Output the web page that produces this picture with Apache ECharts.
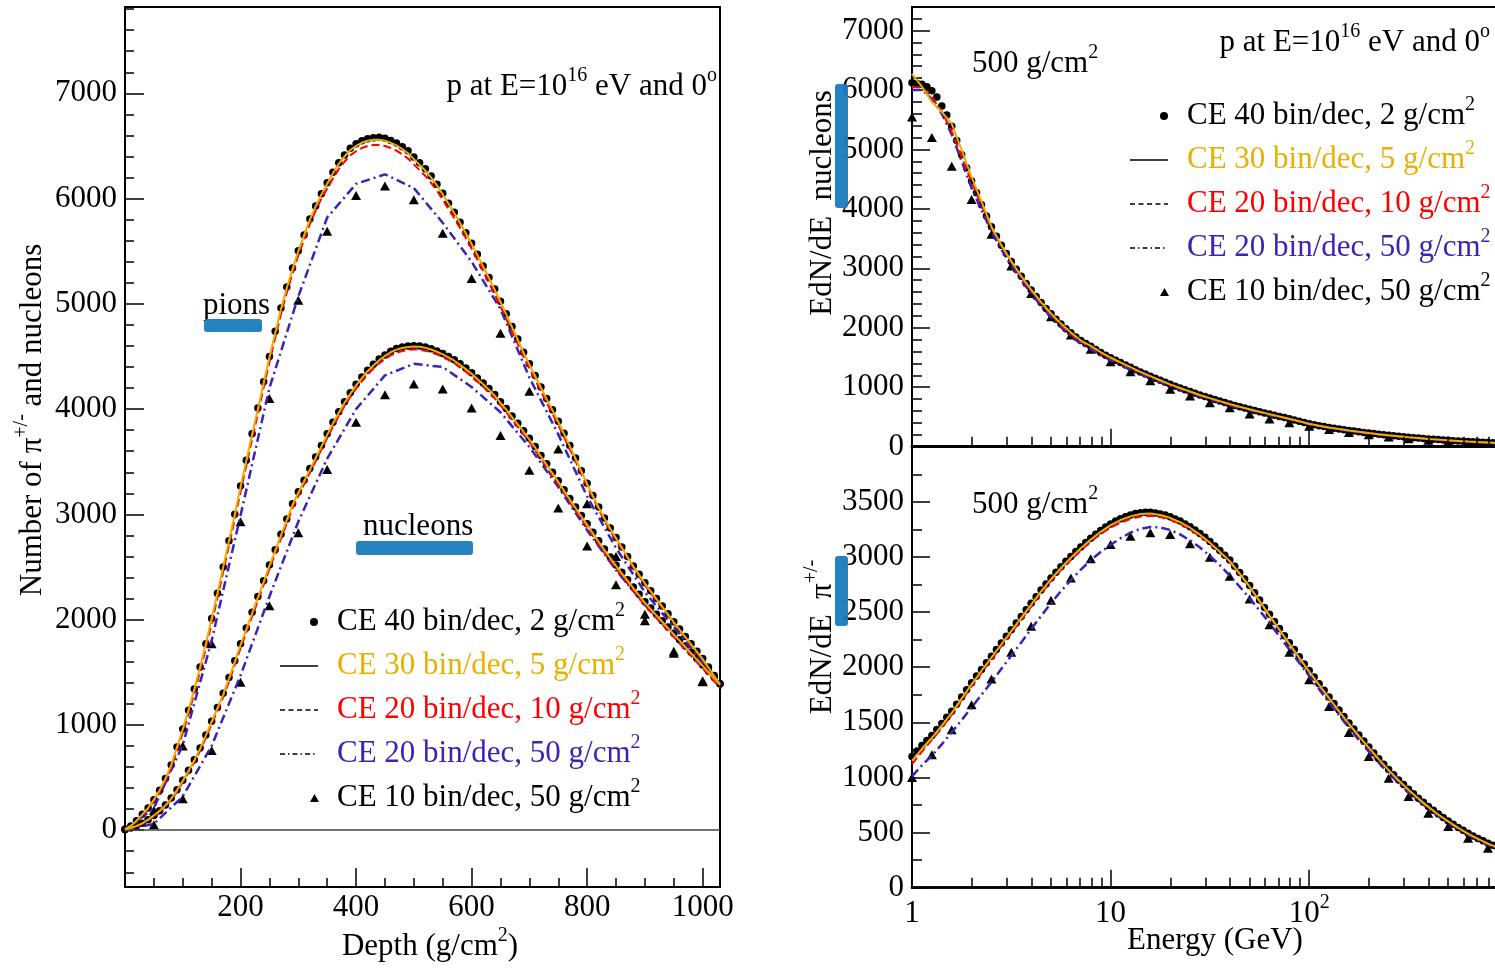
<!DOCTYPE html>
<html><head><meta charset="utf-8">
<script src="https://cdn.jsdelivr.net/npm/echarts@6/dist/echarts.min.js"></script>
<style>html,body{margin:0;padding:0;background:#fff}#c{width:1495px;height:969px}</style>
</head><body><div id="c"></div>
<script>
// ---------------- DATA ----------------
const SERIES_NAMES = ['CE 40 bin/dec, 2 g/cm²', 'CE 30 bin/dec, 5 g/cm²', 'CE 20 bin/dec, 10 g/cm²', 'CE 20 bin/dec, 50 g/cm²', 'CE 10 bin/dec, 50 g/cm²'];

// depth grids (g/cm2)
const depth10 = Array.from({length: 104}, (_, i) => i * 10);           // 0..1030 step 10
const depth50 = [0,50,100,150,200,250,300,350,400,450,500,550,600,650,700,750,800,850,900,950,1000,1050];
const depth50tri = [50,100,150,200,250,300,350,400,450,500,550,600,650,700,750,800,850,900,950,1000];

// pions vs depth
const pionDots = [10,40,90,150,210,290,380,490,620,790, 960,1140,1340,1550,1770,2010,2250,2500,2750,3000,
  3270,3515,3765,4010,4260,4500,4740,4960,5160,5340, 5505,5655,5805,5930,6045,6150,6250,6340,6415,6478,
  6520,6550,6568,6578,6582,6572,6552,6527,6493,6455, 6395,6340,6283,6215,6135,6050,5955,5870,5775,5675,
  5575,5470,5360,5250,5140,5025,4905,4785,4665,4540, 4430,4320,4210,4100,3995,3885,3770,3655,3535,3415,
  3295,3180,3070,2965,2870,2780,2690,2600,2510,2430, 2350,2275,2200,2130,2055,1980,1910,1840,1770,1700,
  1630,1550,1470,1390];
const pionCE30 = [10,40,90,150,210,290,380,490,620,790, 960,1140,1340,1550,1770,2010,2250,2500,2750,3000,
  3260,3510,3760,4000,4250,4490,4720,4950,5150,5330, 5500,5650,5800,5925,6040,6140,6240,6330,6400,6460,
  6500,6530,6550,6558,6560,6550,6530,6505,6470,6430, 6375,6320,6265,6200,6125,6040,5950,5862,5768,5670,
  5570,5465,5355,5245,5135,5020,4900,4780,4660,4535, 4425,4315,4205,4095,3990,3880,3765,3650,3530,3410,
  3290,3175,3065,2960,2865,2775,2685,2595,2505,2425, 2345,2270,2195,2125,2050,1975,1905,1835,1765,1695,
  1625,1545,1465,1385];
const pionCE20fine = [10,35,80,140,200,275,360,465,590,755, 925,1105,1300,1510,1730,1965,2205,2455,2705,2955,
  3215,3465,3715,3955,4205,4445,4675,4905,5105,5290, 5460,5610,5760,5885,6000,6095,6190,6280,6350,6410,
  6450,6480,6500,6510,6510,6500,6480,6455,6420,6380, 6325,6270,6215,6150,6075,5990,5900,5815,5720,5625,
  5525,5420,5310,5200,5090,4975,4855,4740,4620,4500, 4390,4280,4170,4060,3955,3850,3735,3620,3505,3385,
  3265,3155,3045,2940,2845,2755,2665,2580,2490,2410, 2330,2255,2180,2110,2040,1965,1895,1825,1755,1685,
  1615,1535,1455,1375];
const pionCE20coarse = [0,210,810,1800,2990,4200,5070,5820,6140,6230,6100,5770,5400,4950,4300,3760,3170,2680,2260,1930,1590,1260];
const pionCE10 = [190,800,1770,2930,4100,5035,5690,6030,6120,5990,5670,5240,4720,4170,3620,3100,2600,2050,1700,1420];

// nucleons vs depth
const nucDots = [5,20,40,65,100,140,185,240,305,385, 475,570,670,780,905,1035,1165,1300,1450,1610,
  1770,1920,2070,2220,2370,2520,2665,2810,2955,3100, 3215,3325,3435,3545,3655,3765,3875,3975,4070,4155,
  4235,4305,4370,4425,4475,4515,4550,4575,4590,4600, 4603,4600,4590,4574,4553,4528,4500,4468,4430,4390,
  4345,4295,4247,4195,4138,4070,4005,3935,3865,3795, 3722,3645,3560,3480,3400,3320,3235,3150,3070,2990,
  2910,2830,2750,2670,2595,2520,2450,2380,2310,2240, 2170,2110,2050,1990,1930,1870,1810,1750,1690,1630,
  1570,1510,1450,1390];
const nucCE30 = [5,20,40,65,100,140,185,235,300,380, 470,565,665,775,900,1030,1160,1290,1440,1600,
  1760,1910,2060,2210,2360,2510,2655,2800,2945,3090, 3205,3315,3425,3535,3645,3755,3865,3965,4060,4145,
  4225,4295,4360,4415,4465,4505,4540,4565,4580,4590, 4595,4592,4582,4566,4545,4520,4492,4460,4420,4380,
  4335,4285,4237,4185,4128,4060,3995,3925,3855,3785, 3712,3635,3550,3470,3390,3310,3225,3140,3060,2980,
  2900,2820,2740,2660,2585,2510,2440,2370,2300,2230, 2160,2100,2040,1980,1920,1860,1800,1740,1680,1620,
  1560,1500,1440,1380];
const nucCE20fine = [5,18,37,60,93,132,175,225,288,366, 455,548,646,755,878,1006,1135,1265,1412,1570,
  1730,1880,2030,2180,2330,2480,2625,2770,2915,3060, 3175,3285,3395,3505,3615,3725,3835,3935,4030,4115,
  4195,4265,4330,4385,4435,4475,4510,4535,4552,4562, 4567,4565,4555,4540,4520,4495,4467,4435,4395,4355,
  4310,4260,4212,4160,4103,4035,3970,3900,3830,3760, 3688,3610,3525,3445,3365,3285,3200,3115,3035,2955,
  2875,2795,2715,2635,2560,2485,2415,2345,2275,2205, 2135,2075,2015,1955,1895,1835,1775,1715,1655,1595,
  1535,1475,1415,1355];
const nucCE20coarse = [0,60,320,800,1470,2220,2930,3530,4000,4320,4430,4400,4210,3970,3640,3260,2850,2470,2140,1860,1560,1260];
const nucCE10 = [52,298,757,1405,2131,2826,3427,3875,4137,4238,4191,4011,3749,3420,3061,2700,2332,1990,1680,1410];

// energy bin centres (GeV): 40, 20 and 10 bins per decade from 1 GeV
const E40 = Array.from({length: 121}, (_, i) => Math.pow(10, i / 40));
const E20 = Array.from({length: 61}, (_, i) => Math.pow(10, i / 20));
const E10 = Array.from({length: 31}, (_, i) => Math.pow(10, i / 10));

// nucleon spectrum at 500 g/cm2
const specNucDots = [6120,6110,6095,6055,5985,5880,5730,5580,5390,5150,
  4910,4690,4470,4270,4070,3880,3700,3540,3390,3250, 3115,2985,2865,2745,2635,2525,2425,2325,2235,2145,
  2065,1985,1915,1845,1785,1735,1688,1635,1585,1540, 1495,1455,1415,1375,1335,1295,1258,1222,1186,1150,
  1116,1082,1050,1018,988,958,928,899,870,843, 817,792,767,742,717,694,672,650,629,608,
  588,568,548,528,508,489,470,449,428,406, 385,368,352,338,324,310,297,285,273,262,
  251,240,230,220,210,201,192,183,175,167, 159,152,145,138,131,125,119,113,107,102,
  97,92,87,82,78,74,70,66,62,59, 56];
const specNucCE30 = [6270,6055,5800,5630,5435,4990,4540,4120,3700,3390, 3120,2870,2640,2430,2240,2070,1920,1785,1695,1590,
  1500,1418,1338,1258,1188,1118,1048,988,928,870, 817,767,717,672,629,588,548,508,470,428,
  385,352,324,297,273,251,230,210,192,175, 159,145,131,119,107,97,87,78,70,62, 56];
const specNucCE20a = [6050,6045,5880,5640,5300,4880,4450,4060,3690,3375, 3100,2850,2620,2410,2220,2050,1898,1765,1680,1575,
  1488,1405,1327,1248,1178,1108,1040,980,920,862, 810,760,711,666,624,583,543,504,466,424,
  381,349,321,294,270,248,227,207,189,172, 156,142,128,116,104,94,84,75,67,60, 54];
const specNucCE20b = [6000,6000,5850,5600,5250,4800,4350,3980,3620,3320, 3050,2800,2580,2370,2180,2010,1860,1730,1640,1540,
  1455,1375,1298,1222,1152,1085,1020,960,902,846, 795,746,698,654,613,573,534,496,458,418,
  376,344,316,290,266,244,223,204,186,169, 154,140,126,114,103,93,83,74,66,59, 53];
const specNucCE10 = [5546,5200,4718,4157,3575,3037,2578,2185,1877,1637, 1429,1261,1109,965,852,739,655,550,466,403,
  345,290,240,200,165,135,110,90,72,58, 46];

// pion spectrum at 500 g/cm2
const specPiDots = [1190,1240,1290,1335,1380,1435,1490,1545,1600,1665,
  1730,1795,1860,1920,1980,2040,2100,2160,2220,2280, 2340,2400,2460,2520,2580,2640,2700,2755,2810,2862,
  2912,2960,3005,3050,3090,3130,3170,3205,3240,3272, 3300,3325,3347,3365,3380,3393,3402,3406,3405,3398,
  3390,3380,3365,3345,3325,3300,3275,3245,3212,3178, 3140,3100,3058,3016,2972,2915,2858,2800,2740,2675,
  2610,2542,2480,2415,2350,2285,2222,2160,2095,2030, 1970,1910,1850,1790,1730,1670,1612,1552,1495,1440,
  1385,1330,1276,1222,1170,1120,1071,1024,978,935, 893,852,812,774,737,702,668,636,605,575,
  547,520,494,470,447,425,404,384,365,347, 330];
const specPiCE30 = [1150,1260,1360,1470,1585,1715,1845,1968,2088,2208, 2328,2448,2568,2688,2798,2900,2993,3078,3158,3228,
  3288,3335,3368,3390,3394,3380,3355,3315,3265,3202, 3130,3048,2962,2848,2730,2600,2468,2340,2212,2085,
  1960,1840,1720,1602,1487,1376,1270,1166,1066,974, 888,808,733,664,601,543,490,443,400,362, 327];
const specPiCE20a = [1120,1235,1340,1450,1568,1698,1828,1950,2070,2190, 2310,2430,2550,2670,2780,2882,2975,3060,3140,3208,
  3266,3312,3345,3367,3373,3362,3338,3300,3250,3190, 3120,3040,2955,2842,2724,2594,2462,2334,2206,2079,
  1955,1835,1715,1597,1482,1371,1265,1161,1062,970, 884,804,730,661,598,540,488,441,398,360, 325];
const specPiCE20b = [1010,1110,1200,1300,1410,1520,1635,1750,1865,1985, 2105,2225,2345,2465,2580,2690,2790,2885,2970,3045,
  3110,3170,3220,3255,3272,3268,3245,3205,3150,3085, 3010,2925,2830,2730,2625,2515,2400,2280,2160,2040,
  1920,1800,1680,1565,1450,1340,1235,1135,1040,950, 865,790,718,650,588,532,480,432,390,352, 318];
const specPiCE10 = [1000,1205,1432,1659,1893,2135,2371,2607,2810,2983, 3113,3188,3219,3203,3119,2997,2825,2619,2386,2135,
  1886,1644,1408,1190,993,827,676,554,449,358, 290];

// ---------------- STYLE ----------------
const FONT = '"Liberation Serif", "Times New Roman", serif';
const FS = 31;
const C_ORANGE = '#e8b000', C_RED = '#ff0000', C_BLUE = '#3b22b8', C_BLACK = '#000000';
const SERIES_COLORS = [C_BLACK, C_ORANGE, C_RED, C_BLUE, C_BLACK];
const zip = (xs, ys) => ys.map((y, i) => [xs[i], y]);
const plain = v => String(v);

function supRich(color) {
  return {
    sup: {fontFamily: FONT, fontSize: 20, lineHeight: 20, padding: [0, 0, 22, 0], color: color},
    gap: {width: 13, color: color}
  };
}
function label(extra) {
  return Object.assign({show: true, color: '#000', fontFamily: FONT, fontSize: FS, lineHeight: 30, margin: 8,
    showMinLabel: false, showMaxLabel: false, formatter: plain}, extra);
}
const TICK = (len, inside) => ({show: true, inside: inside, length: len, lineStyle: {color: '#000', width: 1.5}});
const MINOR = (len, n) => ({show: true, splitNumber: n, length: len, lineStyle: {color: '#000', width: 1.5}});

function valueAxis(opt) {
  return Object.assign({
    type: 'value',
    axisLine: {show: true, onZero: false, lineStyle: {color: '#000', width: 2}},
    axisTick: TICK(19, true),
    minorTick: MINOR(9, 5),
    axisLabel: label({}),
    splitLine: {show: false}, minorSplitLine: {show: false}
  }, opt);
}
function frameAxis(opt) {
  return Object.assign({
    type: 'value',
    axisLine: {show: true, onZero: false, lineStyle: {color: '#000', width: 2}},
    axisTick: {show: false}, axisLabel: {show: false}, splitLine: {show: false}
  }, opt);
}
function logAxis(opt) {
  return Object.assign({
    type: 'log', logBase: 10, min: 1, max: 1000, z: 10,
    axisLine: {show: true, onZero: false, lineStyle: {color: '#000', width: 3}},
    axisTick: TICK(18, true),
    minorTick: MINOR(10, 9),
    axisLabel: {show: false},
    splitLine: {show: false}, minorSplitLine: {show: false}
  }, opt);
}

function lineSeries(name, xi, yi, data, color, width, type, z) {
  return {type: 'line', name: name, xAxisIndex: xi, yAxisIndex: yi, data: data,
    symbol: 'none', showSymbol: false, silent: true, z: z,
    lineStyle: {color: color, width: width, type: type}, itemStyle: {color: color}};
}
function scatterSeries(name, xi, yi, data, symbol, size, z) {
  return {type: 'scatter', name: name, xAxisIndex: xi, yAxisIndex: yi, data: data,
    symbol: symbol, symbolSize: size, silent: true, z: z, itemStyle: {color: '#000', opacity: 1}};
}
const DASH = [8, 4], DASHDOT = [9, 4, 2, 4];

function panelSeries(xi, yi, dots, ce30, ce20a, ce20b, ce10) {
  return [
    scatterSeries(SERIES_NAMES[0], xi, yi, dots, 'circle', 7.5, 3),
    scatterSeries(SERIES_NAMES[4], xi, yi, ce10, 'triangle', [10, 9], 3),
    lineSeries(SERIES_NAMES[3], xi, yi, ce20b, C_BLUE, 2.5, DASHDOT, 4),
    lineSeries(SERIES_NAMES[2], xi, yi, ce20a, C_RED, 2, DASH, 5),
    lineSeries(SERIES_NAMES[1], xi, yi, ce30, C_ORANGE, 2, 'solid', 6)
  ];
}

const series = [].concat(
  panelSeries(0, 0, zip(depth10, pionDots), zip(depth10, pionCE30), zip(depth10, pionCE20fine), zip(depth50, pionCE20coarse), zip(depth50tri, pionCE10)),
  panelSeries(0, 0, zip(depth10, nucDots), zip(depth10, nucCE30), zip(depth10, nucCE20fine), zip(depth50, nucCE20coarse), zip(depth50tri, nucCE10)),
  panelSeries(2, 2, zip(E40, specNucDots), zip(E20, specNucCE30), zip(E20, specNucCE20a), zip(E20, specNucCE20b), zip(E10, specNucCE10)),
  panelSeries(4, 3, zip(E40, specPiDots), zip(E20, specPiCE30), zip(E20, specPiCE20a), zip(E20, specPiCE20b), zip(E10, specPiCE10))
);
// zero reference line in the depth panel
series[0].markLine = {silent: true, symbol: ['none', 'none'], label: {show: false},
  lineStyle: {color: '#444', width: 1.5, type: 'solid'}, data: [{yAxis: 0}]};

// legend icons (drawn in a 40x10 box)
const ANCH = 'M0,0L0.01,0Z M40,10L39.99,10Z ';
const ICONS = [
  'path://' + ANCH + 'M31,5a4,4 0 1,0 8,0a4,4 0 1,0 -8,0Z',
  'path://' + ANCH + 'M1,4.3H39V5.7H1Z',
  'path://' + ANCH + 'M1,4.3h5v1.4h-5Z M9.5,4.3h5v1.4h-5Z M18,4.3h5v1.4h-5Z M26.5,4.3h5v1.4h-5Z M35,4.3h4v1.4h-4Z',
  'path://' + ANCH + 'M1,4.3h5v1.4h-5Z M9,4.3h1.5v1.4h-1.5Z M13.5,4.3h5v1.4h-5Z M21.5,4.3h1.5v1.4h-1.5Z M26,4.3h5v1.4h-5Z M34,4.3h1.5v1.4h-1.5Z',
  'path://' + ANCH + 'M31,9L35.5,1L40,9Z'
];
const legendItems = SERIES_NAMES.map((n, i) => ({
  name: n, icon: ICONS[i],
  itemStyle: {color: '#000', borderWidth: 0, opacity: 1},
  textStyle: {color: SERIES_COLORS[i], rich: supRich(SERIES_COLORS[i])}
}));
function legendAt(left, top) {
  return {left: left, top: top, orient: 'vertical', itemWidth: 40, itemHeight: 10, itemGap: 0, padding: 0,
    selectedMode: false, data: legendItems,
    formatter: name => '{gap|}' + name.replace('²', '{sup|2}'),
    textStyle: {fontFamily: FONT, fontSize: FS, lineHeight: 44}};
}

// text helpers
const F30 = FS + 'px "Liberation Serif"', F20 = '20px "Liberation Serif"';
const RICH_G = {sup: {font: F20, fill: '#000', lineHeight: 20, padding: [0, 0, 22, 0]}};
function txt(x, y, text, align, rot) {
  return {type: 'text', x: x, y: y, rotation: rot || 0, z: 100, silent: true,
    style: {text: text, font: F30, fill: '#000', align: align, verticalAlign: 'middle', lineHeight: 44, rich: RICH_G}};
}
function blot(x, y, w, h) {
  return {type: 'rect', z: 101, silent: true, shape: {x: x, y: y, width: w, height: h, r: 3},
    style: {fill: '#1a7bbd', opacity: 0.95}};
}
const G = {outerBoundsMode: 'none', containLabel: false};

const option = {
  animation: false,
  backgroundColor: '#ffffff',
  grid: [
    Object.assign({left: 125, top: 7, width: 595, height: 880}, G),
    Object.assign({left: 912, top: 6.7, width: 595.8, height: 440}, G),
    Object.assign({left: 912, top: 446.7, width: 595.8, height: 441}, G),
    // thin strip right under the energy panels: tick labels and upward tick marks
    Object.assign({left: 912, top: 887.7, width: 595.8, height: 1}, G)
  ],
  xAxis: [
    valueAxis({gridIndex: 0, min: 0, max: 1030, splitNumber: 5, minorTick: MINOR(9, 4), axisLabel: label({margin: 6})}),
    frameAxis({gridIndex: 0, position: 'top', min: 0, max: 1030}),
    logAxis({gridIndex: 1, position: 'bottom'}),
    logAxis({gridIndex: 1, position: 'top', axisTick: {show: false}, minorTick: {show: false},
      axisLine: {show: true, onZero: false, lineStyle: {color: '#000', width: 2}}}),
    logAxis({gridIndex: 2, position: 'bottom',
      axisLine: {show: true, onZero: false, lineStyle: {color: '#000', width: 2.5}}}),
    logAxis({gridIndex: 3, position: 'bottom', axisLine: {show: false}, axisTick: {show: false}, minorTick: {show: false},
      axisLabel: {show: true, color: '#000', fontFamily: FONT, fontSize: FS, lineHeight: 44, margin: 3, showMaxLabel: false,
        formatter: v => (v === 1 ? '1' : v === 10 ? '10' : '10{sup|' + Math.round(Math.log10(v)) + '}'),
        rich: {sup: {fontFamily: FONT, fontSize: 20, lineHeight: 20, padding: [0, 0, 22, 0], color: '#000'}}}}),
    logAxis({gridIndex: 3, position: 'top',
      axisLine: {show: true, onZero: false, lineStyle: {color: '#000', width: 2.5}},
      axisTick: TICK(18, false), minorTick: MINOR(10, 9)})
  ],
  yAxis: [
    valueAxis({gridIndex: 0, min: -540, max: 7820, splitNumber: 8}),
    frameAxis({gridIndex: 0, position: 'right', min: -540, max: 7820}),
    valueAxis({gridIndex: 1, min: 0, max: 7400, splitNumber: 7, axisTick: TICK(18, true), minorTick: MINOR(10, 5),
      axisLabel: label({showMinLabel: true})}),
    valueAxis({gridIndex: 2, min: 0, max: 4000, splitNumber: 8, axisTick: TICK(18, true), minorTick: MINOR(10, 2),
      axisLabel: label({showMinLabel: true})}),
    {gridIndex: 3, type: 'value', min: 0, max: 1, show: false}
  ],
  legend: [legendAt(279, 600), legendAt(1129, 94)],
  series: series,
  graphic: [
    txt(717, 87, 'p at E=10{sup|16} eV and 0{sup|o}', 'right'),
    txt(1490, 43, 'p at E=10{sup|16} eV and 0{sup|o}', 'right'),
    txt(972, 64, '500 g/cm{sup|2}', 'left'),
    txt(972, 505, '500 g/cm{sup|2}', 'left'),
    txt(203, 306, 'pions', 'left'),
    txt(363, 527, 'nucleons', 'left'),
    txt(430, 947, 'Depth (g/cm{sup|2})', 'center'),
    txt(1215, 941, 'Energy (GeV)', 'center'),
    txt(33, 420, 'Number of π{sup|+/-} and nucleons', 'center', Math.PI / 2),
    txt(823, 203, 'EdN/dE  nucleons', 'center', Math.PI / 2),
    txt(823, 637, 'EdN/dE  π{sup|+/-}', 'center', Math.PI / 2),
    blot(204, 319, 58, 13),
    blot(356, 541, 117, 14),
    blot(835, 84, 13, 124),
    blot(835, 556, 13, 70)
  ]
};

const chart = echarts.init(document.getElementById('c'), null, {renderer: 'canvas'});
chart.setOption(option);
</script>
</body></html>
